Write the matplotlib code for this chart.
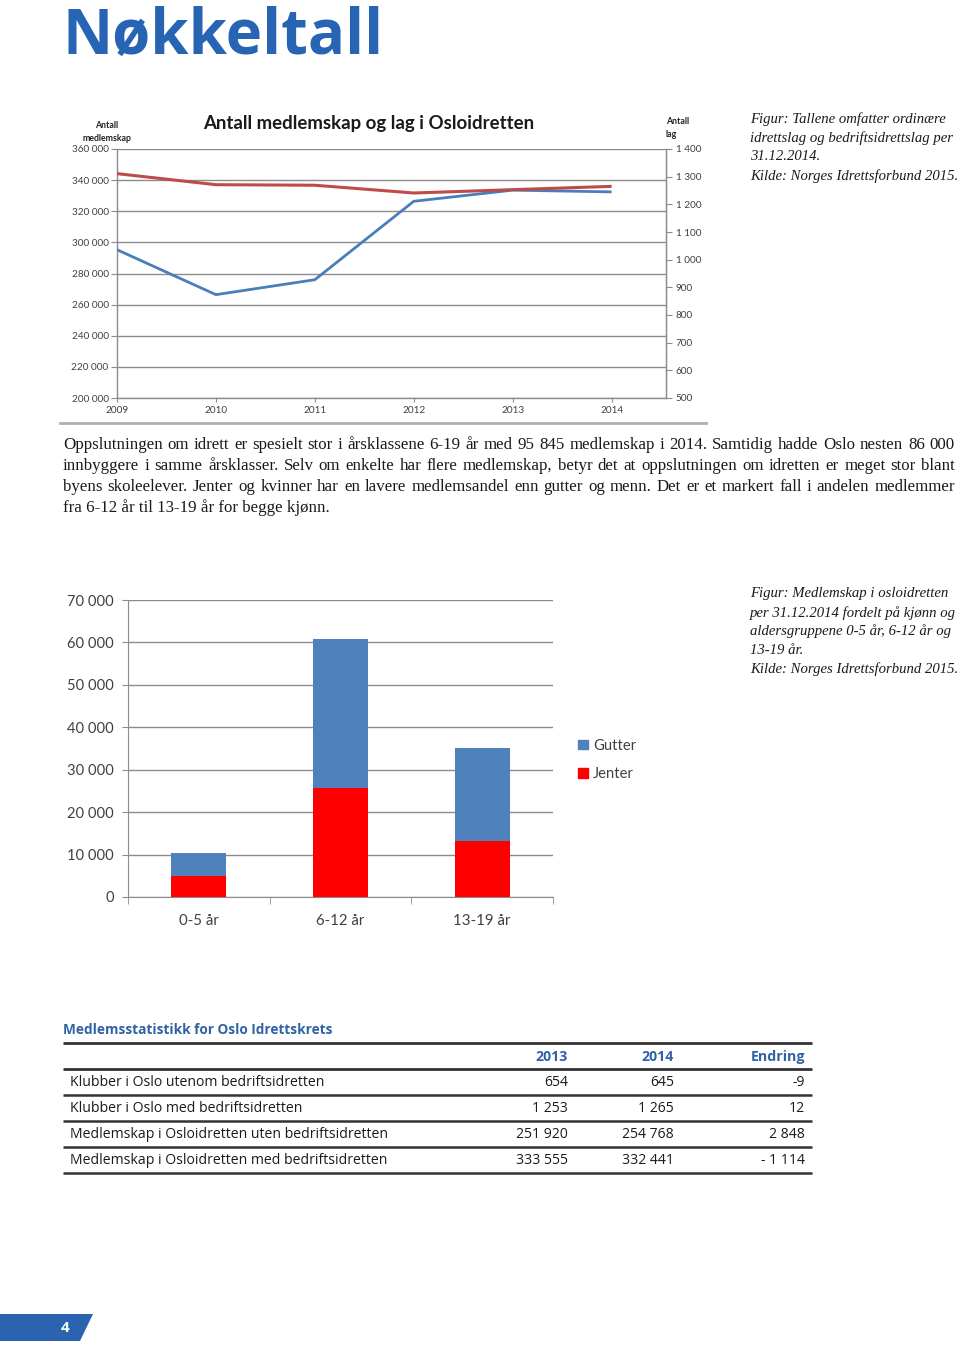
import matplotlib
matplotlib.use("Agg")
import matplotlib.pyplot as plt
from matplotlib.patches import Polygon, Patch
from matplotlib.ticker import FixedLocator, FuncFormatter

# ---------------- data ----------------
years = [2009, 2010, 2011, 2012, 2013, 2014]
medlemskap = [295300, 266400, 276000, 326400, 333555, 332441]
antall_lag = [1311, 1271, 1269, 1241, 1253, 1265]

age_groups = ["0-5 år", "6-12 år", "13-19 år"]
jenter = [4900, 25750, 13300]
gutter = [5500, 35050, 21750]

table_cols = ["2013", "2014", "Endring"]
table_rows = ["Klubber i Oslo utenom bedriftsidretten",
              "Klubber i Oslo med bedriftsidretten",
              "Medlemskap i Osloidretten uten bedriftsidretten",
              "Medlemskap i Osloidretten med bedriftsidretten"]
table_2013 = ["654", "1 253", "251 920", "333 555"]
table_2014 = ["645", "1 265", "254 768", "332 441"]
table_endring = ["-9", "12", "2 848", "- 1 114"]

paragraph = [
    "Oppslutningen om idrett er spesielt stor i årsklassene 6-19 år med 95 845 medlemskap i 2014. Samtidig hadde Oslo nesten 86 000",
    "innbyggere i samme årsklasser. Selv om enkelte har flere medlemskap, betyr det at oppslutningen om idretten er meget stor blant",
    "byens skoleelever. Jenter og kvinner har en lavere medlemsandel enn gutter og menn. Det er et markert fall i andelen medlemmer",
    "fra 6-12 år til 13-19 år for begge kjønn.",
]
caption1 = ["Figur: Tallene omfatter ordinære",
            "idrettslag og bedriftsidrettslag per",
            "31.12.2014.",
            "Kilde: Norges Idrettsforbund 2015."]
caption2 = ["Figur: Medlemskap i osloidretten",
            "per 31.12.2014 fordelt på kjønn og",
            "aldersgruppene 0-5 år, 6-12 år og",
            "13-19 år.",
            "Kilde: Norges Idrettsforbund 2015."]

# ---------------- figure ----------------
W, H = 960, 1348
fig = plt.figure(figsize=(W / 100, H / 100), dpi=100)
fig.patch.set_facecolor("white")

def rect(left, top, right, bottom):
    return [left / W, 1 - bottom / H, (right - left) / W, (bottom - top) / H]

SANS = ["Lato", "DejaVu Sans"]
SERIF = ["Liberation Serif", "DejaVu Serif"]
HEAD = ["Open Sans", "DejaVu Sans"]
BLUE_HEAD = "#2764b4"
TXT = "#1a1a1a"
AX = "#404040"

def sp(n):
    return f"{n:,.0f}".replace(",", " ")

# background overlay axes in pixel coordinates
bg = fig.add_axes([0, 0, 1, 1], zorder=-1)
bg.set_xlim(0, W)
bg.set_ylim(H, 0)
bg.axis("off")

# heading
bg.text(62, 37, "Nøkkeltall", family=HEAD, fontweight="bold", fontsize=44.5,
        color=BLUE_HEAD, va="center", ha="left")

# ---------------- line chart ----------------
ax1 = fig.add_axes(rect(117, 149, 666, 398))
ax1.plot(years, medlemskap, color="#4a7ebb", lw=2.0, solid_capstyle="butt", zorder=3)
ax1.set_xlim(2009, 2014.55)
ax1.set_ylim(200000, 360000)
ax1.yaxis.set_major_locator(FixedLocator(range(200000, 360001, 20000)))
ax1.yaxis.set_major_formatter(FuncFormatter(lambda v, p: sp(v)))
ax1.set_xticks(years)
ax1.set_xticklabels([str(y) for y in years])
ax1.grid(axis="y", color="#8c8c8c", lw=1.0)
ax1.set_axisbelow(True)
ax1.spines["top"].set_visible(False)
for s in ["left", "bottom", "right"]:
    ax1.spines[s].set_color("#8c8c8c")
    ax1.spines[s].set_linewidth(1.0)
ax1.tick_params(axis="y", labelsize=7.2, colors="#8c8c8c", labelcolor=AX, length=4, pad=2)
ax1.tick_params(axis="x", labelsize=7.2, colors="#8c8c8c", labelcolor=AX, length=3, pad=2.5)
for lab in ax1.get_yticklabels() + ax1.get_xticklabels():
    lab.set_family(SANS)

ax2 = ax1.twinx()
ax2.plot(years, antall_lag, color="#be4b48", lw=2.2, solid_capstyle="butt", zorder=3)
ax2.set_ylim(500, 1400)
ax2.yaxis.set_major_locator(FixedLocator(range(500, 1401, 100)))
ax2.yaxis.set_major_formatter(FuncFormatter(lambda v, p: sp(v)))
for s in ["top", "left", "bottom"]:
    ax2.spines[s].set_visible(False)
ax2.spines["right"].set_color("#8c8c8c")
ax2.tick_params(axis="y", labelsize=7.2, colors="#8c8c8c", labelcolor=AX, length=4, pad=3)
for lab in ax2.get_yticklabels():
    lab.set_family(SANS)

bg.text(369, 124, "Antall medlemskap og lag i Osloidretten", family=SANS,
        fontweight="bold", fontsize=13.4, color="#1a1a1a", ha="center", va="center")
bg.text(107, 132, "Antall\nmedlemskap", family=SANS, fontweight="bold",
        fontsize=6.3, color="#222222", ha="center", va="center", linespacing=1.5)
bg.text(666, 128, "Antall\nlag", family=SANS, fontweight="bold",
        fontsize=6.3, color="#222222", ha="left", va="center", linespacing=1.5)
bg.text(333, 171, "antall lag", family=SANS, fontsize=8, color="#333333",
        ha="center", va="center")
bg.plot([60, 706], [423, 423], color="#b0b0b0", lw=2)

# ---------------- paragraph ----------------
fig.canvas.draw()
renderer = fig.canvas.get_renderer()
PFS = 12.2
left_x, right_x = 63, 955

def width_px(s, **kw):
    t = bg.text(0, 0, s, **kw)
    bb = t.get_window_extent(renderer=renderer)
    t.remove()
    return bb.width

for i, line in enumerate(paragraph):
    y = 445 + i * 21
    kw = dict(family=SERIF, fontsize=PFS, color=TXT)
    if i < len(paragraph) - 1:
        words = line.split(" ")
        ws = [width_px(w, **kw) for w in words]
        gap = (right_x - left_x - sum(ws)) / (len(words) - 1)
        x = left_x
        for w, wd in zip(words, ws):
            bg.text(x, y, w, ha="left", va="center", **kw)
            x += wd + gap
    else:
        bg.text(left_x, y, line, ha="left", va="center", **kw)

# captions
for i, line in enumerate(caption1):
    bg.text(750, 119 + i * 19, line, family=SERIF, style="italic", fontsize=10.6,
            color=TXT, ha="left", va="center")
for i, line in enumerate(caption2):
    bg.text(750, 594 + i * 18.8, line, family=SERIF, style="italic", fontsize=10.6,
            color=TXT, ha="left", va="center")

# ---------------- bar chart ----------------
ax3 = fig.add_axes(rect(128, 600, 553, 897))
xs = list(range(len(age_groups)))
ax3.bar(xs, jenter, width=0.39, color="#ff0000", label="Jenter", zorder=3)
ax3.bar(xs, gutter, width=0.39, bottom=jenter, color="#4f81bd", label="Gutter", zorder=3)
ax3.set_xlim(-0.5, 2.5)
ax3.set_ylim(0, 70000)
ax3.yaxis.set_major_locator(FixedLocator(range(0, 70001, 10000)))
ax3.yaxis.set_major_formatter(FuncFormatter(lambda v, p: sp(v)))
ax3.set_xticks(xs)
ax3.set_xticklabels(age_groups)
ax3.set_xticks([-0.5, 0.5, 1.5, 2.5], minor=True)
ax3.grid(axis="y", color="#8c8c8c", lw=1.0)
ax3.set_axisbelow(True)
for s in ["top", "right"]:
    ax3.spines[s].set_visible(False)
for s in ["left", "bottom"]:
    ax3.spines[s].set_color("#8c8c8c")
ax3.tick_params(axis="y", labelsize=10.6, colors="#8c8c8c", labelcolor=AX, length=4, pad=6)
ax3.tick_params(axis="x", which="major", length=0, labelsize=10.8, labelcolor=AX, pad=12)
ax3.tick_params(axis="x", which="minor", length=5, colors="#8c8c8c")
for lab in ax3.get_yticklabels() + ax3.get_xticklabels():
    lab.set_family(SANS)

handles = [Patch(color="#4f81bd", label="Gutter"), Patch(color="#ff0000", label="Jenter")]
fig.legend(handles=handles, loc="center left",
           bbox_to_anchor=(565 / W, 1 - 760 / H), frameon=False,
           prop={"family": SANS, "size": 10.6}, handlelength=0.65, handleheight=0.65,
           handletextpad=0.35, labelspacing=1.0, labelcolor=AX)

# ---------------- table ----------------
bg.text(63, 1030, "Medlemsstatistikk for Oslo Idrettskrets", family=HEAD,
        fontweight="bold", fontsize=9.8, color="#2f62a5", ha="left", va="center")
col_right = [568, 674, 805]
for c, name in enumerate(table_cols):
    bg.text(col_right[c], 1057, name, family=HEAD, fontweight="bold", fontsize=10.2,
            color="#2f62a5", ha="right", va="center")
for yl in [1043, 1069]:
    bg.plot([63, 812], [yl, yl], color="#333333", lw=2.0, solid_capstyle="butt")
for r, label in enumerate(table_rows):
    yc = 1082 + r * 26
    bg.text(70, yc, label, family=HEAD, fontsize=10.1, color=TXT, ha="left", va="center")
    for c, vals in enumerate([table_2013, table_2014, table_endring]):
        bg.text(col_right[c], yc, vals[r], family=HEAD, fontsize=10.1, color=TXT,
                ha="right", va="center")
    bg.plot([63, 812], [yc + 13, yc + 13], color="#333333", lw=1.8, solid_capstyle="butt")

# ---------------- page number ----------------
bg.add_patch(Polygon([[0, 1314], [93, 1314], [80, 1341], [0, 1341]], closed=True,
                     facecolor="#2b63b1", edgecolor="none"))
bg.text(65, 1328, "4", family=HEAD, fontweight="bold", fontsize=11, color="white",
        ha="center", va="center")

fig.savefig("out.png", dpi=100, facecolor="white")
